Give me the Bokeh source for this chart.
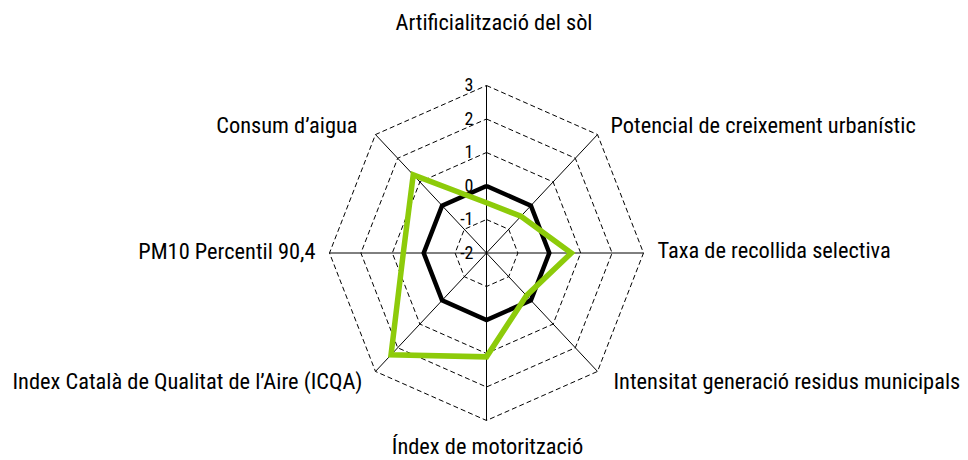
import math
from bokeh.plotting import figure
from bokeh.models import Range1d
from bokeh.core.properties import value
from bokeh.embed import file_html
from bokeh.resources import INLINE

# ---- data ----
axis_labels = [
    "Artificialització del sòl",
    "Potencial de creixement urbanístic",
    "Taxa de recollida selectiva",
    "Intensitat generació residus municipals",
    "Índex de motorització",
    "Index Català de Qualitat de l’Aire (ICQA)",
    "PM10 Percentil 90,4",
    "Consum d’aigua",
]
reference_values = [0, 0, 0, 0, 0, 0, 0, 0]
municipal_values = [-0.5, -0.45, 0.7, -0.2, 1.1, 2.3, 0.65, 1.3]
tick_values = [-2, -1, 0, 1, 2, 3]
tick_labels = ["-2", "-1", "0", "1", "2", "3"]

# ---- layout / style ----
FONT = "Roboto Condensed, DejaVu Sans Condensed, sans-serif"
W, H = 968, 460
CX, CY = 486, 252.5          # centre in figure pixels
RX, RY = 157.0, 167.5        # outer radius in pixels (x, y)
VMIN, VMAX = tick_values[0], tick_values[-1]
n = len(axis_labels)
angles = [2 * math.pi * i / n for i in range(n)]

def frac(v):
    return (v - VMIN) / (VMAX - VMIN)

def poly(vals):
    xs = [frac(v) * math.sin(a) for v, a in zip(vals, angles)]
    ys = [frac(v) * math.cos(a) for v, a in zip(vals, angles)]
    return xs + xs[:1], ys + ys[:1]

p = figure(width=W, height=H, output_backend="svg", toolbar_location=None,
           x_range=Range1d(-CX / RX, (W - CX) / RX),
           y_range=Range1d(-(H - CY) / RY, CY / RY),
           min_border=0)
p.axis.visible = False
p.xgrid.visible = False
p.ygrid.visible = False
p.outline_line_color = None
p.background_fill_color = "white"

# dashed rings
for t in tick_values[1:]:
    xs, ys = poly([t] * n)
    p.line(xs, ys, line_color="black", line_width=1, line_dash="5 3")

# spokes
for a in angles:
    p.line([0, math.sin(a)], [0, math.cos(a)], line_color="black", line_width=1)

# series
xs, ys = poly(reference_values)
p.line(xs, ys, line_color="black", line_width=4.5, line_join="miter")
xs, ys = poly(municipal_values)
p.line(xs, ys, line_color="#8dcb0a", line_width=5.5, line_join="miter")

# tick labels
p.text(x=[0] * len(tick_values), y=[frac(t) for t in tick_values], text=tick_labels,
       text_font=value(FONT), text_font_size="18px", text_color="black",
       text_align="right", text_baseline="middle", x_offset=-13, y_offset=-1)

# axis labels
offs = [(7.5, -64, "center"), (13, -9.5, "left"), (14, -3, "left"), (16, 9.5, "left"),
        (1, 25.5, "center"), (-13, 10, "right"), (-14, -2.5, "right"), (-18, -10, "right")]
for lab, a, (dx, dy, al) in zip(axis_labels, angles, offs):
    p.text(x=[math.sin(a)], y=[math.cos(a)], text=[lab],
           text_font=value(FONT), text_font_size="22.4px", text_color="black",
           text_align=al, text_baseline="middle", x_offset=dx, y_offset=dy)

open("out.html", "w").write(file_html(p, INLINE))
